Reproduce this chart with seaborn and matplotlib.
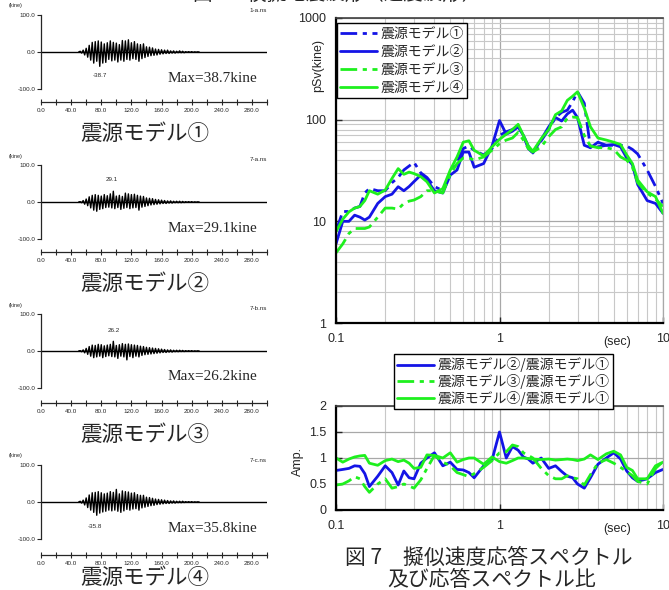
import numpy as np
import pandas as pd
import matplotlib
matplotlib.use('Agg')
import matplotlib.pyplot as plt
import seaborn as sns
from matplotlib.ticker import NullFormatter, FixedLocator

# ---------------------- Data ---------------------- #

# time histories (kine), sampled every 2 s from 50 s to 210 s
wave_time = np.arange(50, 211, 2)

wave_m1 = [0, 2, -3, 5, -8, 10, -14, 18, -22, 26,
           -30, 28, -25, 30, -38.7, 27, -30, 22, -28, 25,
           -20, 30, -24, 26, -22, 24, -27, 20, -22, 31,
           -25, 30, -20, 33, -22, 25, -18, 28, -20, 22,
           -25, 20, -18, 22, -15, 14, -12, 13, -10, 11,
           -9, 8, -8, 7, -6, 6, -5, 5, -4, 5,
           -4, 3, -3, 3, -3, 2, -2, 3, -2, 2,
           -2, 1, -1, 1, -1, 1, -1, 0.5, -0.5, 0.5,
           0]
wave_m2 = [0, 1, -2, 4, -6, 8, -10, 14, -16, 18,
           -22, 20, -25, 18, -20, 16, -18, 20, -15, 17,
           -14, 22, -16, 29.1, -18, 16, -15, 18, -20, 15,
           -17, 24, -15, 22, -18, 20, -16, 21, -15, 18,
           -22, 16, -14, 15, -12, 11, -10, 10, -8, 9,
           -7, 7, -6, 6, -5, 5, -4, 4, -4, 3,
           -3, 3, -3, 2, -2, 2, -2, 2, -2, 1.5,
           -1.5, 1, -1, 1, -1, 1, -1, 0.5, -0.5, 0.5,
           0]
wave_m3 = [0, 1, -2, 3, -5, 7, -9, 12, -14, 16,
           -18, 15, -16, 18, -14, 17, -18, 14, -15, 16,
           -13, 18, -15, 26.2, -16, 15, -20, 17, -14, 20,
           -16, 18, -24, 19, -15, 17, -18, 16, -14, 15,
           -16, 13, -12, 12, -10, 10, -9, 9, -8, 8,
           -7, 7, -6, 6, -5, 5, -4, 4, -4, 3,
           -3, 3, -3, 2, -2, 2, -2, 2, -1.5, 1.5,
           -1.5, 1, -1, 1, -1, 1, -1, 0.5, -0.5, 0.5,
           0]
wave_m4 = [0, 2, -3, 5, -8, 11, -15, 19, -22, 25,
           -28, 26, -35.8, 28, -30, 25, -27, 22, -25, 24,
           -22, 28, -24, 26, -22, 34, -25, 22, -28, 30,
           -24, 28, -20, 27, -22, 24, -19, 25, -18, 20,
           -22, 18, -16, 18, -14, 13, -12, 12, -10, 10,
           -9, 8, -7, 7, -6, 6, -5, 5, -4, 4,
           -4, 3, -3, 3, -3, 2, -2, 2, -2, 2,
           -1.5, 1, -1, 1, -1, 1, -1, 0.5, -0.5, 0.5,
           0]

wave_names = ['震源モデル①', '震源モデル②', '震源モデル③', '震源モデル④']
wave_tags = ['1-a.ns', '7-a.ns', '7-b.ns', '7-c.ns']
wave_max = [38.7, 29.1, 26.2, 35.8]
peak_labels = ['-38.7', '29.1', '26.2', '-35.8']
peak_at = [(78, -64), (94, 60), (96, 55), (71, -66)]

# pseudo velocity response spectra (kine)
periods = [0.1, 0.11, 0.12, 0.13, 0.14, 0.15, 0.16,
           0.18, 0.2, 0.22, 0.24, 0.26, 0.28, 0.3,
           0.33, 0.36, 0.4, 0.45, 0.5, 0.55, 0.6, 0.65, 0.7,
           0.8, 0.9, 1.0,
           1.1, 1.2, 1.3, 1.4, 1.5, 1.6,
           1.8, 2.0, 2.2, 2.4, 2.6, 2.8, 3.0,
           3.3, 3.6, 4.0, 4.5, 5.0, 5.5, 6.0, 6.5, 7.0,
           8.0, 9.0, 10.0]

sv_m1 = [8, 12.5, 12.5, 13.5, 14, 19, 21,
         20, 20, 24, 27, 32, 35, 38,
         30, 27, 22, 20, 30, 38, 52, 55, 50,
         45, 52, 70,
         76, 80, 86, 70, 52, 47,
         62, 80, 105, 118, 124, 150, 188,
         145, 53, 54, 56, 56, 56, 55, 51, 46,
         32, 22, 15]
sv_m2 = [6, 10, 10, 11.5, 11, 10.3, 11,
         15, 17.5, 18.5, 21.9, 20, 22, 24.6,
         28.5, 25.5, 20, 19, 28.5, 32, 48, 48, 34,
         37, 55, 98,
         72, 77, 85, 70, 55, 47,
         64, 85, 105, 97, 114, 124, 105,
         56, 53, 60, 56, 57, 54, 42, 36, 23,
         16, 15, 12]
sv_m3 = [4.9, 6, 7.6, 8.5, 8.5, 8.5, 8.8,
         11, 13.5, 13.5, 13.2, 15, 15.8, 16.2,
         17.5, 20, 20, 19, 29, 37, 42, 42, 40,
         43, 50, 58,
         63, 66, 75, 63, 52, 48,
         54, 68, 80, 85, 104, 106, 105,
         70, 55, 53, 53, 51, 43, 40, 34, 24,
         19, 16.5, 14]
sv_m4 = [7.9, 10.5, 12.4, 13.5, 14, 16, 20,
         18.5, 20.3, 26.4, 33, 29, 30.5, 29.5,
         27.5, 24.5, 19, 21, 32, 43, 60, 62, 50,
         44, 54, 64,
         72, 80, 90, 70, 55, 49,
         65, 80, 112, 122, 155, 170, 188,
         130, 85, 66, 63, 60, 57, 45, 37, 25.5,
         19.5, 17.5, 12]

# spectral ratios
ratio_21 = [0.76, 0.78, 0.8, 0.85, 0.84, 0.7, 0.45,
            0.65, 0.85, 0.72, 0.48, 0.75, 0.62, 0.6,
            0.9, 1.0, 1.1, 0.85, 0.92, 0.78, 0.77, 0.72, 0.62,
            0.85, 0.96, 1.5,
            1.0, 1.22, 1.15, 1.02, 0.98, 0.9,
            1.0, 0.8, 0.85, 0.74, 0.65, 0.62, 0.5,
            0.42, 0.62, 0.88, 1.0, 1.1, 0.98, 0.75, 0.62, 0.55,
            0.6, 0.72, 0.78]
ratio_31 = [0.48, 0.5, 0.56, 0.64, 0.6, 0.45, 0.34,
            0.5, 0.6, 0.42, 0.45, 0.5, 0.46, 0.42,
            0.58, 0.8, 1.05, 0.92, 0.85, 0.72, 0.68, 0.64, 0.7,
            0.82, 0.95, 1.1,
            1.12, 1.25, 1.22, 1.1, 1.05, 1.0,
            0.8, 0.66, 0.6, 0.6, 0.66, 0.62, 0.6,
            0.48, 0.68, 0.9, 0.97, 0.9, 0.82, 0.74, 0.66, 0.55,
            0.5, 0.8, 0.93]
ratio_41 = [1.0, 0.92, 0.98, 1.02, 1.04, 1.05, 0.9,
            0.86, 0.95, 0.98, 0.93, 0.96, 0.9, 0.8,
            0.82, 1.06, 1.05, 1.0, 1.1, 0.92, 0.97, 1.0, 1.0,
            0.88, 1.02, 0.93,
            0.9, 0.95, 1.0, 1.0, 0.99, 0.98,
            0.97, 0.98, 0.96, 0.97, 0.98, 0.97, 0.95,
            0.98, 1.06, 0.97, 1.08, 1.13, 1.06, 0.82, 0.76, 0.6,
            0.6, 0.85, 0.92]

ratio_names = ['震源モデル②/震源モデル①', '震源モデル③/震源モデル①', '震源モデル④/震源モデル①']

# ---------------------- Layout helpers ---------------------- #

W, H = 669, 590
BLUE = '#1414e6'
GREEN = '#1ef01e'
DASH = (0, (6, 2, 1.5, 2))
CJK = ['Noto Sans CJK JP', 'DejaVu Sans']


def px_axes(fig, left, top, right, bottom):
    return fig.add_axes([left / W, 1 - bottom / H, (right - left) / W, (bottom - top) / H])


def px_text(fig, x, y, s, **kw):
    return fig.text(x / W, 1 - y / H, s, **kw)


# ---------------------- Waveforms ---------------------- #

def plot_wave(fig, amp, top, axis_y, idx):
    ax = px_axes(fig, 41, top, 267, top + 74)
    sns.lineplot(x=wave_time, y=amp, ax=ax, color='black', lw=1.0, legend=False, errorbar=None)
    ax.axhline(0, color='black', lw=1.0, zorder=1)
    ax.set_xlim(0, 300)
    ax.set_ylim(-100, 100)
    for side in ['top', 'right']:
        ax.spines[side].set_visible(False)
    ax.spines['left'].set_bounds(-100, 100)
    ax.spines['left'].set_linewidth(0.9)
    ax.spines['bottom'].set_position(('outward', (axis_y - top - 74) * 0.72))
    ax.spines['bottom'].set_linewidth(0.9)
    ax.set_yticks([100, 0, -100])
    ax.set_yticklabels(['100.0', '0.0', '-100.0'])
    ax.set_xticks(np.arange(0, 281, 40))
    ax.set_xticklabels([f'{v:.1f}' for v in np.arange(0, 281, 40)])
    ax.xaxis.set_minor_locator(FixedLocator(np.arange(20, 301, 40)))
    ax.tick_params(axis='y', direction='out', length=3, width=0.8, pad=1, labelsize=4.5)
    ax.tick_params(axis='x', which='both', direction='inout', length=5, width=0.8, pad=2, labelsize=4.5)
    ax.set_xlabel('')
    ax.set_ylabel('')
    ax.patch.set_alpha(0)

    px_text(fig, 16, top - 9, '(kine)', fontsize=4, ha='center', va='center')
    px_text(fig, 267, top - 5, wave_tags[idx], fontsize=4.5, ha='right', va='center')
    px, py = peak_at[idx]
    ax.text(px, py, peak_labels[idx], fontsize=4.5, ha='center', va='center')
    px_text(fig, 257, top + 63, f'Max={wave_max[idx]}kine', fontsize=11,
            family='Liberation Serif', ha='right', va='center')
    px_text(fig, 145, min(axis_y + 32, 578), wave_names[idx], fontsize=15.5, family=CJK,
            ha='center', va='center')


# ---------------------- Spectra ---------------------- #

def style_log_axes(ax):
    ax.set_xscale('log')
    ax.set_xlim(0.1, 10)
    ax.set_xticks([0.1, 1, 10])
    ax.set_xticklabels(['0.1', '1', '10'])
    ax.xaxis.set_minor_formatter(NullFormatter())
    ax.grid(True, which='major', color='#a8a8a8', lw=0.9)
    ax.grid(True, which='minor', color='#c8c8c8', lw=0.8)
    ax.set_axisbelow(True)
    ax.tick_params(which='major', direction='in', length=4, width=1, pad=7, labelsize=9)
    ax.tick_params(which='minor', length=0)
    for side in ['left', 'bottom']:
        ax.spines[side].set_color('black')
        ax.spines[side].set_linewidth(1.6)
    ax.spines['top'].set_color('#404040')
    ax.spines['top'].set_linewidth(1.2)
    ax.spines['right'].set_color('#a8a8a8')
    ax.spines['right'].set_linewidth(0.9)
    ax.set_xlabel('')
    ax.set_ylabel('')


def make_legend(ax, handles, labels, x, y, size, spacing):
    leg = ax.legend(handles, labels, loc='upper left', bbox_to_anchor=(x / W, 1 - y / H),
                    bbox_transform=ax.figure.transFigure, frameon=True, fancybox=False,
                    edgecolor='black', framealpha=1, prop={'family': CJK, 'size': size},
                    handlelength=2.6, handletextpad=0.3, labelspacing=spacing,
                    borderpad=0.25, borderaxespad=0)
    leg.get_frame().set_linewidth(1.0)
    return leg


def plot_spectra(fig):
    spec = pd.DataFrame({'period': periods, 'm1': sv_m1, 'm2': sv_m2, 'm3': sv_m3, 'm4': sv_m4})
    ax = px_axes(fig, 336, 18, 663, 323)
    ax.set_xscale('log')
    ax.set_yscale('log')
    series = [('m1', BLUE, DASH), ('m2', BLUE, '-'), ('m3', GREEN, DASH), ('m4', GREEN, '-')]
    handles = []
    for key, color, ls in series:
        sns.lineplot(data=spec, x='period', y=key, ax=ax, color=color, lw=2,
                     linestyle=ls, legend=False, errorbar=None)
        handles.append(ax.lines[-1])
    style_log_axes(ax)
    ax.set_ylim(1, 1000)
    ax.set_yticks([1, 10, 100, 1000])
    ax.set_yticklabels(['1', '10', '100', '1000'])
    ax.yaxis.set_minor_formatter(NullFormatter())
    make_legend(ax, handles, wave_names, 337, 23, 10, 0.3)
    px_text(fig, 318, 66, 'pSv(kine)', fontsize=9, rotation=90, ha='center', va='center')
    px_text(fig, 617, 342, '(sec)', fontsize=9, ha='center', va='center')

    ratio = pd.DataFrame({'period': periods, 'r21': ratio_21, 'r31': ratio_31, 'r41': ratio_41})
    ax2 = px_axes(fig, 336, 406, 663, 510)
    ax2.set_xscale('log')
    rseries = [('r21', BLUE, '-'), ('r31', GREEN, DASH), ('r41', GREEN, '-')]
    rhandles = []
    for key, color, ls in rseries:
        sns.lineplot(data=ratio, x='period', y=key, ax=ax2, color=color, lw=2,
                     linestyle=ls, legend=False, errorbar=None)
        rhandles.append(ax2.lines[-1])
    style_log_axes(ax2)
    ax2.set_ylim(0, 2)
    ax2.set_yticks([0, 0.5, 1, 1.5, 2])
    ax2.set_yticklabels(['0', '0.5', '1', '1.5', '2'])
    make_legend(ax2, rhandles, ratio_names, 394, 354, 10, 0.12)
    px_text(fig, 298, 461, 'Amp.', fontsize=9, rotation=90, ha='center', va='center')
    px_text(fig, 617, 529, '(sec)', fontsize=9, ha='center', va='center')


# ---------------------- Main ---------------------- #

def main():
    sns.set_style('ticks')
    plt.rcParams['font.family'] = ['Liberation Sans', 'Noto Sans CJK JP', 'DejaVu Sans']

    fig = plt.figure(figsize=(W / 100, H / 100), dpi=100)

    tops = [15, 165, 314, 465]
    axis_ys = [102, 252, 403, 555]
    waves = [wave_m1, wave_m2, wave_m3, wave_m4]
    for i in range(4):
        plot_wave(fig, waves[i], tops[i], axis_ys[i], i)

    plot_spectra(fig)

    px_text(fig, 193, -6, '図 6　模擬地震波形（速度波形）', fontsize=14, family=CJK,
            ha='left', va='center')
    px_text(fig, 345, 558, '図 7　擬似速度応答スペクトル', fontsize=15, family=CJK,
            ha='left', va='center')
    px_text(fig, 387, 580, '及び応答スペクトル比', fontsize=15, family=CJK,
            ha='left', va='center')

    fig.savefig('out.png', dpi=100)


if __name__ == "__main__":
    main()
